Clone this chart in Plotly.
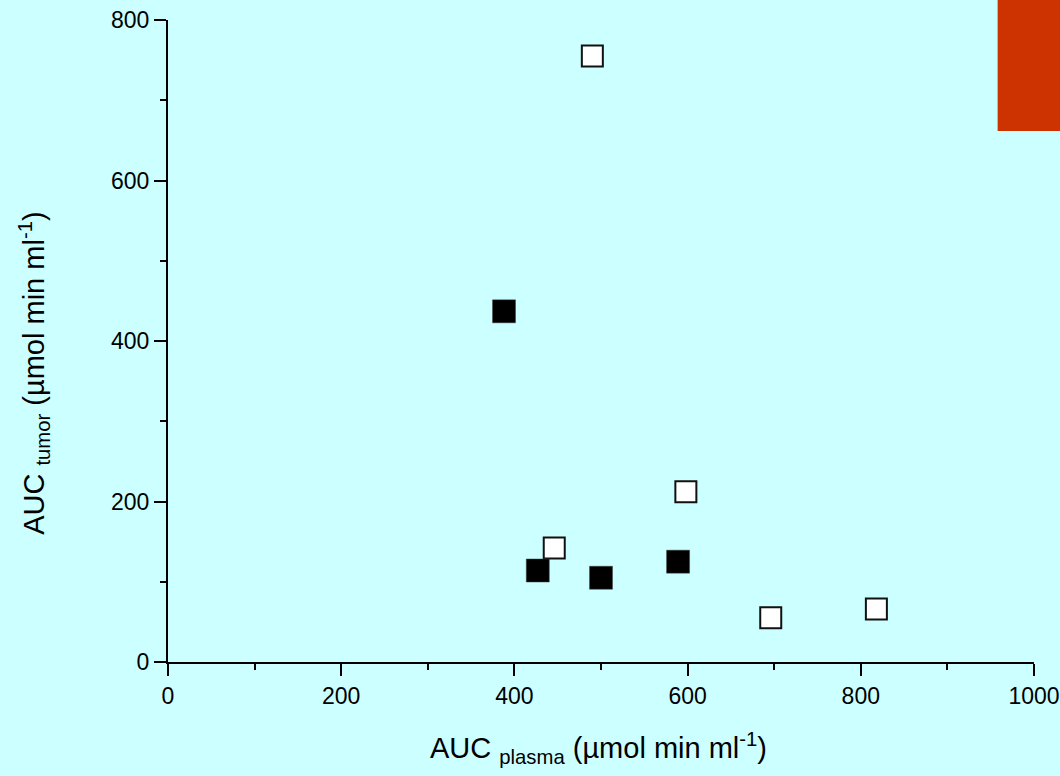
import plotly.graph_objects as go

# Data
filled_x = [388, 427, 500, 589]
filled_y = [437, 114, 105, 125]
open_x = [490, 446, 598, 696, 818]
open_y = [755, 142, 212, 55, 66]

x_tickvals = [0, 200, 400, 600, 800, 1000]
y_tickvals = [0, 200, 400, 600, 800]

BG = "#CCFFFF"
FONT = "Liberation Sans, Arial, sans-serif"

fig = go.Figure()
fig.add_trace(go.Scatter(
    x=open_x, y=open_y, mode="markers",
    marker=dict(symbol="square", size=21, color="white",
                line=dict(color="#111111", width=2)),
    showlegend=False, hoverinfo="x+y"))
fig.add_trace(go.Scatter(
    x=filled_x, y=filled_y, mode="markers",
    marker=dict(symbol="square", size=23, color="black",
                line=dict(color="#444444", width=0.5)),
    showlegend=False, hoverinfo="x+y"))

axis_common = dict(
    showline=True, linecolor="black", linewidth=2,
    ticks="outside", ticklen=12, tickwidth=2, tickcolor="black",
    showgrid=False, zeroline=False, automargin=False,
    tickfont=dict(family=FONT, size=23, color="black"),
    minor=dict(ticks="outside", ticklen=6, tickwidth=2, tickcolor="black", dtick=100),
)

fig.update_xaxes(range=[0, 1000], tickvals=x_tickvals, **axis_common)
fig.update_yaxes(range=[0, 800], tickvals=y_tickvals, **axis_common)

fig.add_shape(type="rect", xref="paper", yref="paper",
              x0=0.958, x1=1.05, y0=0.827, y1=1.05,
              fillcolor="#CC3300", line=dict(width=0), layer="above")

fig.add_annotation(
    text="AUC <sub>plasma</sub> (µmol min ml<sup>-1</sup>)",
    xref="paper", yref="paper", x=0.497, y=-0.134,
    xanchor="center", yanchor="middle", showarrow=False,
    font=dict(family=FONT, size=29, color="black"))
fig.add_annotation(
    text="AUC <sub>tumor</sub> (µmol min ml<sup>-1</sup>)",
    xref="paper", yref="paper", x=-0.155, y=0.45,
    xanchor="center", yanchor="middle", textangle=-90, showarrow=False,
    font=dict(family=FONT, size=29, color="black"))

fig.update_layout(
    width=1060, height=776,
    paper_bgcolor=BG, plot_bgcolor=BG,
    margin=dict(l=168, r=26, t=20, b=114, autoexpand=False),
    font=dict(family=FONT, color="black"),
)

fig.write_html(
    "out.html",
    config={"displayModeBar": False},
    post_script="document.body.style.margin='0';document.body.style.background='%s';" % BG,
)
